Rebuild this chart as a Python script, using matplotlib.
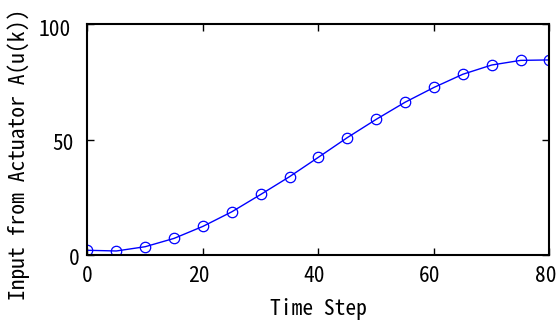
import matplotlib
matplotlib.use("Agg")
import matplotlib.pyplot as plt
from matplotlib.transforms import ScaledTranslation

time_step = [0, 5, 10, 15, 20, 25, 30, 35, 40, 45, 50, 55, 60, 65, 70, 75, 80]
actuator_input = [2.25, 1.95, 3.8, 7.4, 12.6, 18.9, 26.4, 34.1, 42.5, 51.0, 58.9,
                  66.3, 72.7, 78.4, 82.4, 84.4, 84.6]
x_ticks = [0, 20, 40, 60, 80]
y_ticks = [0, 50, 100]

plt.rcParams['font.family'] = ['Noto Sans Mono CJK JP', 'Noto Sans CJK JP', 'DejaVu Sans Mono']

fig = plt.figure(figsize=(5.57, 3.2), dpi=100)
ax = fig.add_axes([0.157, 0.2016, 0.8295, 0.7224])
ax.plot(time_step, actuator_input, color='#0000ff', lw=1.0, marker='o',
        markersize=7.5, markerfacecolor='none', markeredgecolor='#0000ff',
        markeredgewidth=0.9)
ax.set_xlim(0, 80)
ax.set_ylim(0, 100)
ax.set_xticks(x_ticks)
ax.set_yticks(y_ticks)
ax.tick_params(direction='in', length=5, width=1, top=True, right=True,
               labelsize=15.5)
ax.tick_params(axis='x', pad=7)
ax.tick_params(axis='y', pad=12)
for s in ax.spines.values():
    s.set_linewidth(1.5)

# small per-label offsets (pixels) mimicking the reference's label placement
for tl, v in zip(ax.get_xticklabels(), x_ticks):
    dx = 0 if v == 0 else -4
    tl.set_transform(tl.get_transform() + ScaledTranslation(dx / 100, 0, fig.dpi_scale_trans))
y_dx = {0: 9, 50: 3, 100: 0}
y_dy = {0: -1, 50: -2, 100: -3}
for tl, v in zip(ax.get_yticklabels(), y_ticks):
    tl.set_transform(tl.get_transform() +
                     ScaledTranslation(y_dx[v] / 100, y_dy[v] / 100, fig.dpi_scale_trans))

ax.set_xlabel('Time Step', fontsize=15.5, labelpad=7.5)
ax.set_ylabel('Input from Actuator A(u(k))', fontsize=15.5)
ax.yaxis.set_label_coords(-0.1245, 0.439)
fig.savefig('out.png', dpi=100)
